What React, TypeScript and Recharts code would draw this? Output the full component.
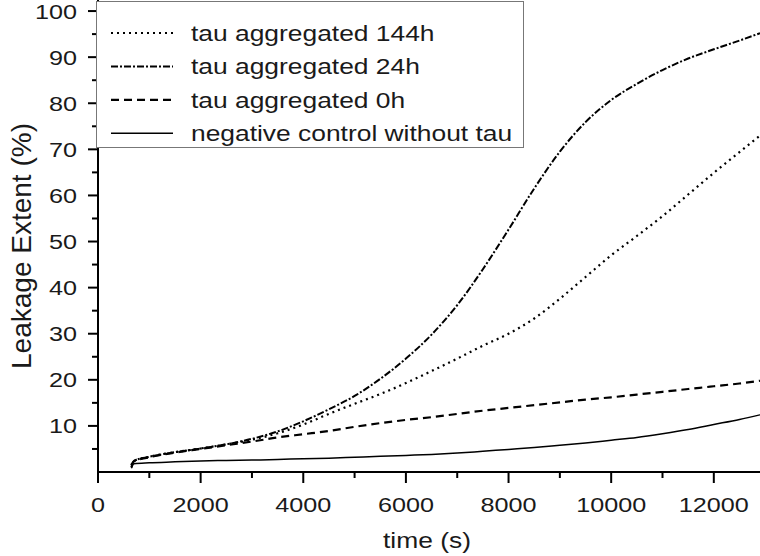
import { LineChart, Line, XAxis, YAxis, Legend } from 'recharts';

// time points (s)
const times = [
  650, 700, 1000, 1500, 2000, 2500, 3000, 3500, 4000, 4500, 5000, 5500, 6000,
  6500, 7000, 7500, 8000, 8500, 9000, 9500, 10000, 10500, 11000, 11500, 12000,
  12500, 12900,
];

// leakage extent (%) per series
const tau144h = [
  1.5, 2.4, 3.3, 4.3, 5.1, 6.0, 7.0, 8.4, 10.3, 12.6, 14.8, 16.9, 19.3, 21.9,
  24.6, 27.4, 30.0, 33.3, 37.6, 42.3, 47.0, 51.2, 55.5, 60.2, 64.9, 69.4, 73.0,
];
const tau24h = [
  1.5, 2.4, 3.3, 4.3, 5.1, 6.0, 7.2, 8.8, 11.0, 13.6, 16.5, 20.2, 24.6, 29.8,
  36.2, 44.0, 52.6, 61.5, 69.5, 75.9, 80.7, 84.2, 87.2, 89.7, 91.7, 93.6, 95.2,
];
const tau0h = [
  1.0, 2.3, 3.2, 4.2, 5.0, 5.8, 6.6, 7.5, 8.2, 8.9, 9.8, 10.6, 11.3, 11.9,
  12.6, 13.3, 13.9, 14.5, 15.1, 15.7, 16.2, 16.8, 17.4, 18.0, 18.6, 19.2, 19.8,
];
const control = [
  0.8, 1.8, 2.0, 2.2, 2.4, 2.5, 2.6, 2.7, 2.9, 3.0, 3.2, 3.4, 3.6, 3.8, 4.1,
  4.5, 4.9, 5.3, 5.8, 6.3, 6.9, 7.5, 8.3, 9.2, 10.3, 11.4, 12.4,
];

const xTicks = [0, 1000, 2000, 3000, 4000, 5000, 6000, 7000, 8000, 9000, 10000, 11000, 12000];
const yTicks = [5, 10, 15, 20, 25, 30, 35, 40, 45, 50, 55, 60, 65, 70, 75, 80, 85, 90, 95, 100];

const seriesNames = {
  h144: 'tau aggregated 144h',
  h24: 'tau aggregated 24h',
  h0: 'tau aggregated 0h',
  ctrl: 'negative control without tau',
};

const data = times.map((t, i) => ({
  t,
  h144: tau144h[i],
  h24: tau24h[i],
  h0: tau0h[i],
  ctrl: control[i],
}));

const FONT = '"Liberation Sans", Arial, Helvetica, sans-serif';
const INK = '#1a1a1a';

const series = [
  { key: 'h144', dash: '2 4', width: 2.2 },
  { key: 'h24', dash: '7 2 2 2', width: 2 },
  { key: 'h0', dash: '8 5', width: 2.2 },
  { key: 'ctrl', dash: undefined, width: 1.5 },
] as const;

function XTick({ x, y, payload }: any) {
  const major = payload.value % 2000 === 0;
  return (
    <g>
      <line x1={x} x2={x} y1={y} y2={y + (major ? 11 : 6)} stroke="#000" strokeWidth={2} />
      {major && (
        <text
          transform={`translate(${x},${y + 40}) scale(1.2,1)`}
          textAnchor="middle"
          fontSize={21}
          fontFamily={FONT}
          fill={INK}
        >
          {payload.value}
        </text>
      )}
    </g>
  );
}

function YTick({ x, y, payload }: any) {
  const major = payload.value % 10 === 0;
  return (
    <g>
      <line x1={x} x2={x - (major ? 10 : 6)} y1={y} y2={y} stroke="#000" strokeWidth={2} />
      {major && (
        <text
          transform={`translate(${x - 21},${y + 7.5}) scale(1.2,1)`}
          textAnchor="end"
          fontSize={21}
          fontFamily={FONT}
          fill={INK}
        >
          {payload.value}
        </text>
      )}
    </g>
  );
}

function LegendBox() {
  return (
    <div
      style={{
        width: 428,
        height: 147,
        boxSizing: 'border-box',
        border: '1px solid #777',
        background: '#fff',
      }}
    >
      <svg width={426} height={145}>
        {series.map((s, i) => {
          const cy = 31 + i * 33.4;
          return (
            <g key={s.key}>
              <line
                x1={14}
                x2={76}
                y1={cy}
                y2={cy}
                stroke="#000"
                strokeWidth={s.width}
                strokeDasharray={s.dash}
              />
              <text
                transform={`translate(94,${cy + 8}) scale(1.2,1)`}
                fontSize={22}
                fontFamily={FONT}
                fill={INK}
              >
                {seriesNames[s.key]}
              </text>
            </g>
          );
        })}
      </svg>
    </div>
  );
}

export default function App() {
  return (
    <div style={{ position: 'absolute', left: 0, top: 0, width: 760, height: 556, background: '#fff' }}>
      <LineChart width={760} height={556} data={data} margin={{ top: 0, right: 0, bottom: 0, left: 0 }}>
        <XAxis
          dataKey="t"
          type="number"
          domain={[0, 12900]}
          ticks={xTicks}
          interval={0}
          tickSize={0}
          tickMargin={0}
          height={84}
          axisLine={{ stroke: '#000', strokeWidth: 2 }}
          tick={<XTick />}
          label={{
            content: ({ viewBox }: any) => (
              <text
                transform={`translate(${viewBox.x + viewBox.width / 2 - 2},${viewBox.y + 76}) scale(1.2,1)`}
                textAnchor="middle"
                fontSize={22}
                fontFamily={FONT}
                fill={INK}
              >
                time (s)
              </text>
            ),
          }}
        />
        <YAxis
          type="number"
          domain={[0, 102.4]}
          ticks={yTicks}
          interval={0}
          tickSize={0}
          tickMargin={0}
          width={98}
          allowDataOverflow
          axisLine={{ stroke: '#000', strokeWidth: 2 }}
          tick={<YTick />}
          label={{
            content: ({ viewBox }: any) => (
              <text
                transform={`translate(31,${viewBox.y + viewBox.height / 2 + 10}) rotate(-90)`}
                textAnchor="middle"
                fontSize={28}
                fontFamily={FONT}
                fill={INK}
              >
                Leakage Extent (%)
              </text>
            ),
          }}
        />
        <Legend
          layout="vertical"
          align="center"
          verticalAlign="middle"
          wrapperStyle={{ left: 96, top: 1, width: 428, height: 147 }}
          content={() => <LegendBox />}
        />
        {series.map((s) => (
          <Line
            key={s.key}
            dataKey={s.key}
            name={seriesNames[s.key]}
            type="monotone"
            stroke="#000"
            strokeWidth={s.width}
            strokeDasharray={s.dash}
            dot={false}
            isAnimationActive={false}
          />
        ))}
      </LineChart>
    </div>
  );
}
